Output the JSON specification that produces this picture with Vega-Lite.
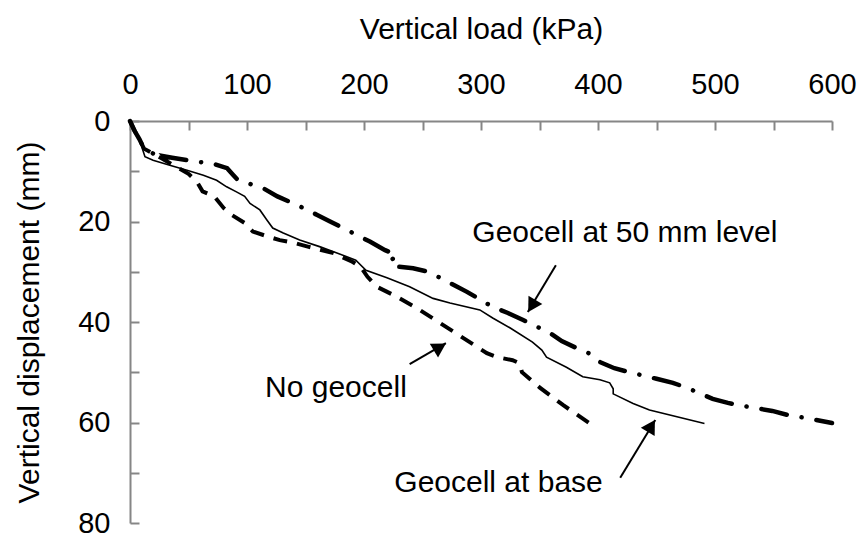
{
  "$schema": "https://vega.github.io/schema/vega-lite/v6.json",
  "width": 702,
  "height": 402,
  "autosize": {"type": "none"},
  "padding": {"left": 130, "top": 121, "right": 32, "bottom": 16},
  "background": "white",
  "config": {
    "view": {"stroke": null},
    "font": "Liberation Sans",
    "axis": {
      "domainColor": "#868686",
      "domainWidth": 2,
      "tickColor": "#868686",
      "tickWidth": 2,
      "tickSize": -9,
      "grid": false,
      "labelFlush": false,
      "labelOverlap": false,
      "labelFont": "Liberation Sans",
      "labelFontSize": 29,
      "labelColor": "black",
      "titleFont": "Liberation Sans",
      "titleFontSize": 30,
      "titleFontWeight": "normal",
      "titleColor": "black"
    }
  },
  "datasets": {
    "curves": [
      {"series": "none", "load": 0, "disp": 0},
      {"series": "none", "load": 4, "disp": 2},
      {"series": "none", "load": 8, "disp": 3.6},
      {"series": "none", "load": 12, "disp": 5.5},
      {"series": "none", "load": 20, "disp": 6.5},
      {"series": "none", "load": 35, "disp": 8.5},
      {"series": "none", "load": 50, "disp": 10.5},
      {"series": "none", "load": 57, "disp": 12},
      {"series": "none", "load": 62, "disp": 14},
      {"series": "none", "load": 72, "disp": 15},
      {"series": "none", "load": 80, "disp": 17.3},
      {"series": "none", "load": 87, "disp": 18.7},
      {"series": "none", "load": 98, "disp": 20.3},
      {"series": "none", "load": 105, "disp": 22},
      {"series": "none", "load": 118, "disp": 23},
      {"series": "none", "load": 128, "disp": 23.7},
      {"series": "none", "load": 141, "disp": 24.3},
      {"series": "none", "load": 152, "disp": 25},
      {"series": "none", "load": 174, "disp": 26.3},
      {"series": "none", "load": 190, "disp": 28},
      {"series": "none", "load": 197, "disp": 29},
      {"series": "none", "load": 203, "disp": 31},
      {"series": "none", "load": 211, "disp": 33},
      {"series": "none", "load": 225, "disp": 34.6},
      {"series": "none", "load": 245, "disp": 37.2},
      {"series": "none", "load": 265, "disp": 40.2},
      {"series": "none", "load": 285, "disp": 43.2},
      {"series": "none", "load": 305, "disp": 46.2},
      {"series": "none", "load": 314, "disp": 47},
      {"series": "none", "load": 327, "disp": 47.6},
      {"series": "none", "load": 333, "disp": 48.2},
      {"series": "none", "load": 335, "disp": 50},
      {"series": "none", "load": 350, "disp": 53},
      {"series": "none", "load": 370, "disp": 56.5},
      {"series": "none", "load": 393, "disp": 60.2},

      {"series": "base", "load": 0, "disp": 0},
      {"series": "base", "load": 4, "disp": 2},
      {"series": "base", "load": 8, "disp": 3.6},
      {"series": "base", "load": 11, "disp": 5.8},
      {"series": "base", "load": 12.8, "disp": 7.1},
      {"series": "base", "load": 19.7, "disp": 7.8},
      {"series": "base", "load": 34, "disp": 8.8},
      {"series": "base", "load": 48.7, "disp": 9.8},
      {"series": "base", "load": 62.7, "disp": 10.8},
      {"series": "base", "load": 74, "disp": 11.8},
      {"series": "base", "load": 82.6, "disp": 13.1},
      {"series": "base", "load": 91, "disp": 14.1},
      {"series": "base", "load": 98, "disp": 15},
      {"series": "base", "load": 102.6, "disp": 16.4},
      {"series": "base", "load": 111, "disp": 17.7},
      {"series": "base", "load": 117, "disp": 19.7},
      {"series": "base", "load": 122, "disp": 21.3},
      {"series": "base", "load": 131, "disp": 22.3},
      {"series": "base", "load": 145, "disp": 23.7},
      {"series": "base", "load": 162, "disp": 25},
      {"series": "base", "load": 174, "disp": 26},
      {"series": "base", "load": 193, "disp": 27.7},
      {"series": "base", "load": 201.7, "disp": 29.7},
      {"series": "base", "load": 219.6, "disp": 31.2},
      {"series": "base", "load": 239, "disp": 33},
      {"series": "base", "load": 259, "disp": 35.3},
      {"series": "base", "load": 273.5, "disp": 36.2},
      {"series": "base", "load": 299, "disp": 37.6},
      {"series": "base", "load": 310, "disp": 39.2},
      {"series": "base", "load": 325, "disp": 41.2},
      {"series": "base", "load": 344, "disp": 44},
      {"series": "base", "load": 352, "disp": 45.6},
      {"series": "base", "load": 356, "disp": 47},
      {"series": "base", "load": 373, "disp": 49},
      {"series": "base", "load": 387, "disp": 50.9},
      {"series": "base", "load": 401.7, "disp": 51.5},
      {"series": "base", "load": 410, "disp": 52.1},
      {"series": "base", "load": 413, "disp": 53.3},
      {"series": "base", "load": 413, "disp": 54.3},
      {"series": "base", "load": 430, "disp": 56.2},
      {"series": "base", "load": 444, "disp": 57.5},
      {"series": "base", "load": 491, "disp": 60.2},

      {"series": "gc50", "load": 0, "disp": 0},
      {"series": "gc50", "load": 4, "disp": 2},
      {"series": "gc50", "load": 8, "disp": 3.6},
      {"series": "gc50", "load": 12, "disp": 5.5},
      {"series": "gc50", "load": 20, "disp": 6.5},
      {"series": "gc50", "load": 26, "disp": 7.1},
      {"series": "gc50", "load": 31, "disp": 7.6},
      {"series": "gc50", "load": 29, "disp": 7.0},
      {"series": "gc50", "load": 36, "disp": 7.3},
      {"series": "gc50", "load": 57, "disp": 8.1},
      {"series": "gc50", "load": 70, "disp": 8.4},
      {"series": "gc50", "load": 83, "disp": 9.4},
      {"series": "gc50", "load": 88, "disp": 10.7},
      {"series": "gc50", "load": 92, "disp": 11.7},
      {"series": "gc50", "load": 101, "disp": 12.4},
      {"series": "gc50", "load": 114, "disp": 13.4},
      {"series": "gc50", "load": 126, "disp": 15},
      {"series": "gc50", "load": 148, "disp": 17.3},
      {"series": "gc50", "load": 160, "disp": 18.7},
      {"series": "gc50", "load": 171, "disp": 20},
      {"series": "gc50", "load": 194, "disp": 22.7},
      {"series": "gc50", "load": 205, "disp": 24},
      {"series": "gc50", "load": 218, "disp": 25.7},
      {"series": "gc50", "load": 228, "disp": 26.7},
      {"series": "gc50", "load": 222, "disp": 28},
      {"series": "gc50", "load": 229, "disp": 29},
      {"series": "gc50", "load": 242, "disp": 29.3},
      {"series": "gc50", "load": 255, "disp": 30},
      {"series": "gc50", "load": 265, "disp": 31.2},
      {"series": "gc50", "load": 278, "disp": 32.8},
      {"series": "gc50", "load": 288, "disp": 34},
      {"series": "gc50", "load": 310, "disp": 37},
      {"series": "gc50", "load": 323, "disp": 38.2},
      {"series": "gc50", "load": 336, "disp": 39.6},
      {"series": "gc50", "load": 359, "disp": 42.2},
      {"series": "gc50", "load": 369, "disp": 43.8},
      {"series": "gc50", "load": 380, "disp": 45},
      {"series": "gc50", "load": 392, "disp": 46.2},
      {"series": "gc50", "load": 402, "disp": 48},
      {"series": "gc50", "load": 414, "disp": 49.2},
      {"series": "gc50", "load": 427, "disp": 50},
      {"series": "gc50", "load": 450, "disp": 51.3},
      {"series": "gc50", "load": 464, "disp": 52.1},
      {"series": "gc50", "load": 476, "disp": 53.1},
      {"series": "gc50", "load": 498, "disp": 55.3},
      {"series": "gc50", "load": 511, "disp": 56.1},
      {"series": "gc50", "load": 524, "disp": 56.7},
      {"series": "gc50", "load": 549, "disp": 57.7},
      {"series": "gc50", "load": 562, "disp": 58.5},
      {"series": "gc50", "load": 575, "disp": 59},
      {"series": "gc50", "load": 600, "disp": 60.1}
    ],
    "labels": [
      {"id": "gc50", "load": 423, "disp": 22.3, "text": "Geocell at 50 mm level"},
      {"id": "none", "load": 176, "disp": 53.1, "text": "No geocell"},
      {"id": "base", "load": 315, "disp": 72, "text": "Geocell at base"}
    ],
    "arrows": [
      {"id": "gc50", "load": 364, "disp": 28.7, "load2": 340, "disp2": 38},
      {"id": "none", "load": 239, "disp": 48.4, "load2": 270, "disp2": 44.2},
      {"id": "base", "load": 419, "disp": 71, "load2": 449, "disp2": 59.5}
    ]
  },
  "encoding": {
    "x": {
      "field": "load",
      "type": "quantitative",
      "scale": {"domain": [0, 600], "nice": false, "zero": false},
      "axis": {
        "orient": "top",
        "title": "Vertical load (kPa)",
        "values": [0, 50, 100, 150, 200, 250, 300, 350, 400, 450, 500, 550, 600],
        "labelExpr": "datum.value % 100 === 0 ? datum.label : ''",
        "labelPadding": 37,
        "labelBaseline": "alphabetic",
        "titlePadding": 26
      }
    },
    "y": {
      "field": "disp",
      "type": "quantitative",
      "scale": {"domain": [0, 80], "reverse": true, "nice": false, "zero": false},
      "axis": {
        "orient": "left",
        "title": "Vertical displacement (mm)",
        "values": [0, 10, 20, 30, 40, 50, 60, 70, 80],
        "labelExpr": "datum.value % 20 === 0 ? datum.label : ''",
        "labelPadding": 29,
        "titlePadding": 33
      }
    }
  },
  "layer": [
    {
      "data": {"name": "curves"},
      "transform": [{"filter": "datum.series === 'none'"}],
      "mark": {"type": "line", "color": "black", "strokeWidth": 4, "strokeDash": [14, 10]},
      "encoding": {"order": {"value": null}}
    },
    {
      "data": {"name": "curves"},
      "transform": [{"filter": "datum.series === 'base'"}],
      "mark": {"type": "line", "color": "black", "strokeWidth": 1.6},
      "encoding": {"order": {"value": null}}
    },
    {
      "data": {"name": "curves"},
      "transform": [{"filter": "datum.series === 'gc50'"}],
      "mark": {"type": "line", "color": "black", "strokeWidth": 4.5, "strokeCap": "round", "strokeDash": [26, 15, 0.1, 15]},
      "encoding": {"order": {"value": null}}
    },
    {
      "data": {"name": "arrows"},
      "mark": {"type": "rule", "color": "black", "strokeWidth": 2},
      "encoding": {
        "x2": {"field": "load2"},
        "y2": {"field": "disp2"}
      }
    },
    {
      "data": {"name": "arrows"},
      "transform": [{"filter": "datum.id === 'gc50'"}],
      "mark": {"type": "point", "shape": "triangle-up", "filled": true, "color": "black", "opacity": 1, "size": 260, "angle": 211, "xOffset": 4, "yOffset": -6},
      "encoding": {
        "x": {"field": "load2", "type": "quantitative"},
        "y": {"field": "disp2", "type": "quantitative"}
      }
    },
    {
      "data": {"name": "arrows"},
      "transform": [{"filter": "datum.id === 'none'"}],
      "mark": {"type": "point", "shape": "triangle-up", "filled": true, "color": "black", "opacity": 1, "size": 260, "angle": 59, "xOffset": -6, "yOffset": 4},
      "encoding": {
        "x": {"field": "load2", "type": "quantitative"},
        "y": {"field": "disp2", "type": "quantitative"}
      }
    },
    {
      "data": {"name": "arrows"},
      "transform": [{"filter": "datum.id === 'base'"}],
      "mark": {"type": "point", "shape": "triangle-up", "filled": true, "color": "black", "opacity": 1, "size": 260, "angle": 31, "xOffset": -4, "yOffset": 6},
      "encoding": {
        "x": {"field": "load2", "type": "quantitative"},
        "y": {"field": "disp2", "type": "quantitative"}
      }
    },
    {
      "data": {"name": "labels"},
      "mark": {"type": "text", "font": "Liberation Sans", "fontSize": 30, "color": "black", "align": "center", "baseline": "middle"},
      "encoding": {"text": {"field": "text"}}
    }
  ]
}
